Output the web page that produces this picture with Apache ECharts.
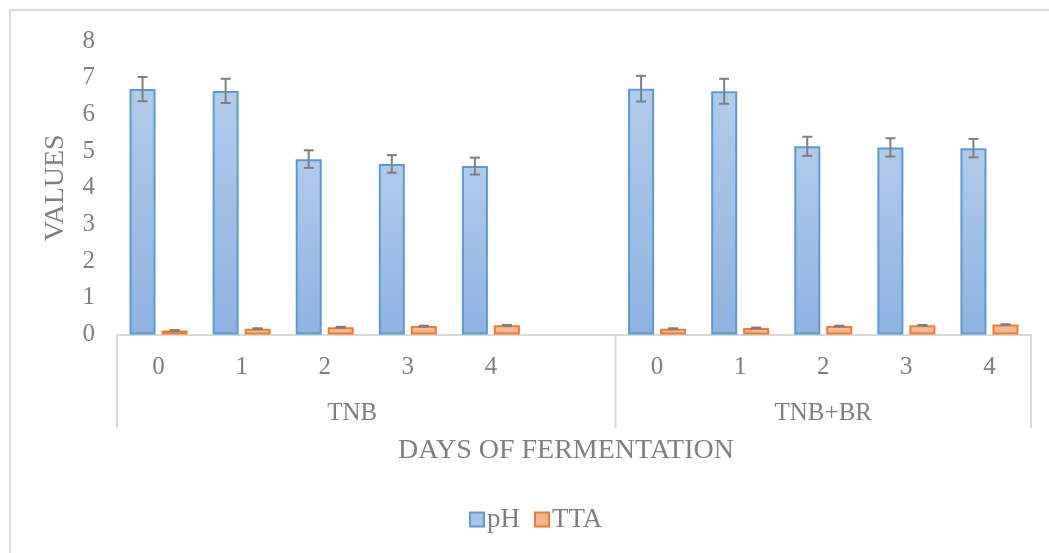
<!DOCTYPE html>
<html>
<head>
<meta charset="utf-8">
<script src="https://cdn.jsdelivr.net/npm/echarts@6/dist/echarts.min.js"></script>
<style>
  html, body { margin: 0; padding: 0; background: #ffffff; }
  #chart { width: 1049px; height: 553px; }
</style>
</head>
<body>
<div id="chart"></div>
<script>
// ---- data ----
const days = ['0', '1', '2', '3', '4', '', '0', '1', '2', '3', '4'];
const groups = ['TNB', 'TNB+BR'];
const groupSpans = [[0, 5], [6, 10]];           // category index ranges of each group
const seriesNames = ['pH', 'TTA'];
const phValues  = [6.69, 6.64, 4.78, 4.65, 4.59, null, 6.70, 6.63, 5.13, 5.10, 5.08];
const phErrors  = [0.33, 0.33, 0.24, 0.24, 0.23, null, 0.35, 0.34, 0.26, 0.25, 0.25];
const ttaValues = [0.11, 0.16, 0.20, 0.23, 0.25, null, 0.16, 0.18, 0.23, 0.25, 0.27];
const ttaErrors = [0.01, 0.01, 0.01, 0.01, 0.01, null, 0.01, 0.01, 0.01, 0.01, 0.01];
const yTicks = [0, 1, 2, 3, 4, 5, 6, 7, 8];

// ---- style ----
const FONT = 'Liberation Serif';
const TXT = '#7f7f7f';
const AXIS = '#d9d9d9';
const BAR_W = 26, BAR_GAP_PX = 6;
const OFFSET = (BAR_W + BAR_GAP_PX) / 2;

function errData(vals, errs) {
  const out = [];
  vals.forEach((v, i) => { if (v != null) out.push([i, v, errs[i]]); });
  return out;
}
function errRender(offset) {
  return function (params, api) {
    const i = api.value(0), v = api.value(1), e = api.value(2);
    const top = api.coord([i, v + e]);
    const bot = api.coord([i, v - e]);
    const cx = top[0] + offset, hw = 5;
    const st = { stroke: '#7f7f7f', lineWidth: 2 };
    return {
      type: 'group',
      children: [
        { type: 'line', shape: { x1: cx, y1: top[1], x2: cx, y2: bot[1] }, style: st },
        { type: 'line', shape: { x1: cx - hw, y1: top[1], x2: cx + hw, y2: top[1] }, style: st },
        { type: 'line', shape: { x1: cx - hw, y1: bot[1], x2: cx + hw, y2: bot[1] }, style: st }
      ]
    };
  };
}

const chart = echarts.init(document.getElementById('chart'), null, { renderer: 'canvas' });

const option = {
  animation: false,
  backgroundColor: '#ffffff',
  grid: { left: 117, right: 18, top: 41, bottom: 218.5, containLabel: false },
  legend: {
    data: [
      { name: 'pH', itemStyle: { color: '#a9c5e8', borderColor: '#5b9bd5', borderWidth: 2 } },
      { name: 'TTA', itemStyle: { color: '#f7b394', borderColor: '#ed7d31', borderWidth: 2 } }
    ],
    left: 469, top: 506, padding: 0,
    icon: 'rect', itemWidth: 14, itemHeight: 14, itemGap: 14,
    textStyle: { fontFamily: FONT, fontSize: 27, color: TXT, padding: [0, 0, 0, -2] }
  },
  xAxis: {
    type: 'category',
    data: days,
    name: 'DAYS OF FERMENTATION',
    nameLocation: 'middle',
    nameGap: 102,
    nameTextStyle: { fontFamily: FONT, fontSize: 28, color: TXT, padding: [0, 16, 0, 0] },
    axisLine: { show: true, lineStyle: { color: AXIS, width: 2 } },
    axisTick: { show: false },
    axisLabel: { fontFamily: FONT, fontSize: 25, color: TXT, margin: 20, interval: 0 },
    splitLine: { show: false }
  },
  yAxis: {
    type: 'value',
    min: yTicks[0], max: yTicks[yTicks.length - 1], interval: 1,
    name: 'VALUES',
    nameLocation: 'middle',
    nameGap: 47,
    nameRotate: 90,
    nameTextStyle: { fontFamily: FONT, fontSize: 28, color: TXT },
    axisLine: { show: false },
    axisTick: { show: false },
    splitLine: { show: false },
    axisLabel: { fontFamily: FONT, fontSize: 25, color: TXT, margin: 22 }
  },
  series: [
    {
      name: seriesNames[0], type: 'bar', data: phValues,
      barWidth: BAR_W, barGap: (BAR_GAP_PX / BAR_W * 100) + '%',
      itemStyle: {
        color: new echarts.graphic.LinearGradient(0, 0, 0, 1, [
          { offset: 0, color: '#b1cbea' }, { offset: 1, color: '#8eb3e1' }
        ]),
        borderColor: '#5b9bd5', borderWidth: 2
      }
    },
    {
      name: seriesNames[1], type: 'bar', data: ttaValues,
      barWidth: BAR_W,
      itemStyle: {
        color: new echarts.graphic.LinearGradient(0, 0, 0, 1, [
          { offset: 0, color: '#f9c2a6' }, { offset: 1, color: '#f5ac89' }
        ]),
        borderColor: '#ed7d31', borderWidth: 2
      }
    },
    {
      name: 'pH-err', type: 'custom', renderItem: errRender(-OFFSET),
      data: errData(phValues, phErrors), encode: { x: 0, y: 1 }, z: 5, silent: true
    },
    {
      name: 'TTA-err', type: 'custom', renderItem: errRender(OFFSET),
      data: errData(ttaValues, ttaErrors), encode: { x: 0, y: 1 }, z: 5, silent: true
    }
  ]
};
chart.setOption(option);

// ---- multi-level category decoration, positioned from the axis scale ----
const px = i => chart.convertToPixel({ xAxisIndex: 0 }, i);
const bw = px(1) - px(0);
const y0 = chart.convertToPixel({ yAxisIndex: 0 }, 0);
const SEP_LEN = 94;
const graphics = [
  { type: 'rect', shape: { x: 10, y: 10, width: 1100, height: 600 },
    style: { fill: 'none', stroke: AXIS, lineWidth: 2 }, z: -1 }
];
const boundaries = [px(groupSpans[0][0]) - bw / 2, px(groupSpans[1][0]) - bw / 2, px(groupSpans[1][1]) + bw / 2];
boundaries.forEach(x => {
  graphics.push({ type: 'line', shape: { x1: x, y1: y0, x2: x, y2: y0 + SEP_LEN },
    style: { stroke: AXIS, lineWidth: 2 } });
});
const labelShift = [-14, 0];
groups.forEach((g, k) => {
  const a = px(groupSpans[k][0]) - bw / 2, b = px(groupSpans[k][1]) + bw / 2;
  graphics.push({ type: 'text', x: (a + b) / 2 + labelShift[k], y: y0 + 79,
    style: { text: g, font: '25px "' + FONT + '"', fill: TXT, textAlign: 'center', textVerticalAlign: 'middle' } });
});
chart.setOption({ graphic: graphics });
</script>
</body>
</html>
